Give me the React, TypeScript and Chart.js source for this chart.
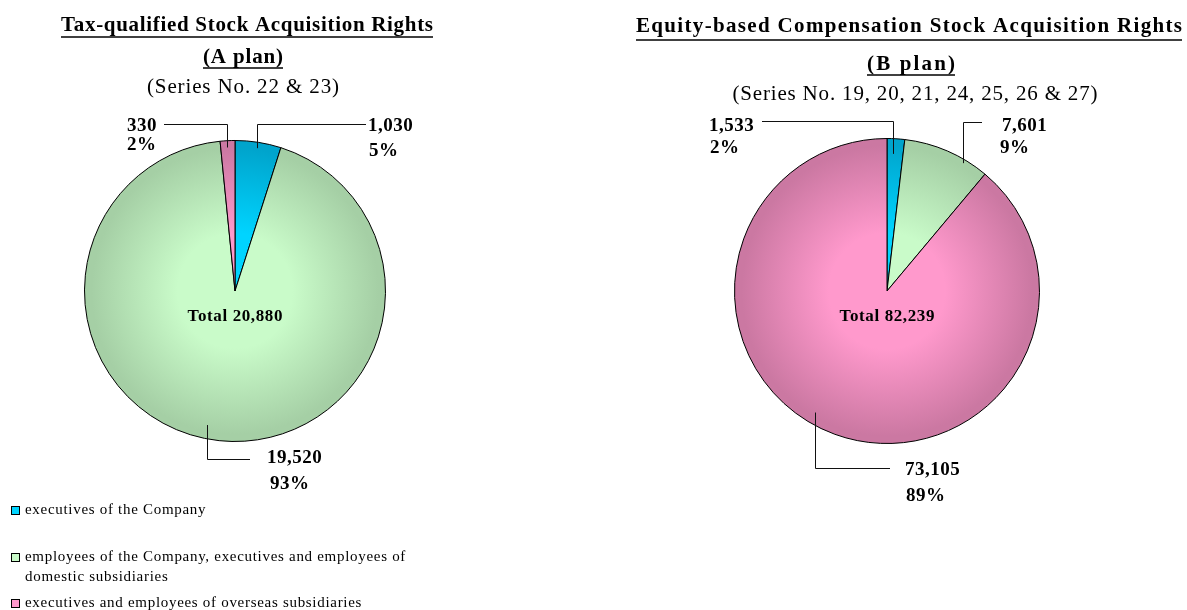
import React, { useEffect, useRef } from "react";
import { Chart, registerables } from "chart.js";

Chart.register(...registerables);

// ---------------- data ----------------
const categories = [
  "executives of the Company",
  "employees of the Company, executives and employees of domestic subsidiaries",
  "executives and employees of overseas subsidiaries",
];
const legendLines = [
  ["executives of the Company"],
  ["employees of the Company, executives and employees of", "domestic subsidiaries"],
  ["executives and employees of overseas subsidiaries"],
];
const planAValues = [1030, 19520, 330];
const planBValues = [1533, 7601, 73105];
const planATitle = "Tax-qualified Stock Acquisition Rights";
const planASub = "(A plan)";
const planASeries = "(Series No. 22 & 23)";
const planBTitle = "Equity-based Compensation Stock Acquisition Rights";
const planBSub = "(B plan)";
const planBSeries = "(Series No. 19, 20, 21, 24, 25, 26 & 27)";

// colours: [centre, edge]
const sliceColors = [
  ["#00d4ff", "#00a4cc"],
  ["#c9fbc9", "#a5cfa5"],
  ["#ff99cc", "#cb78a2"],
];

const SERIF = '"Liberation Serif", "Times New Roman", serif';

// ---------------- layout ----------------
type LabelLayout = {
  angle: number; // anchor angle (deg, clockwise from top)
  rf: number; // anchor radius fraction
  lineY: number;
  endX: number;
  tx: number;
  ty: number;
  px: number;
  py: number;
};

const layoutA = {
  padding: { left: 84, right: 801, top: 140, bottom: 168 },
  title: { cx: 247, cy: 26, w: 372, uy: 37 },
  sub: { cx: 243, cy: 58, w: 80, uy: 68 },
  series: { cx: 243, cy: 87, w: 192 },
  labels: [
    { angle: 8.7, rf: 0.96, lineY: 124.5, endX: 366, tx: 368, ty: 126, px: 369, py: 151 },
    { angle: 191.8, rf: 0.91, lineY: 459.5, endX: 250, tx: 267, ty: 458, px: 270, py: 484 },
    { angle: 356.8, rf: 0.955, lineY: 124.5, endX: 164, tx: 127, ty: 126, px: 127, py: 145 },
  ] as LabelLayout[],
};

const layoutB = {
  padding: { left: 734, right: 147, top: 138, bottom: 166 },
  title: { cx: 909, cy: 27, w: 546, uy: 40 },
  sub: { cx: 911, cy: 65, w: 88, uy: 75 },
  series: { cx: 915, cy: 94, w: 365 },
  labels: [
    { angle: 2.5, rf: 0.9, lineY: 121.5, endX: 762, tx: 709, ty: 126, px: 710, py: 148 },
    { angle: 30.7, rf: 0.975, lineY: 122.5, endX: 982, tx: 1002, ty: 126, px: 1000, py: 148 },
    { angle: 210.5, rf: 0.925, lineY: 468.5, endX: 890, tx: 905, ty: 470, px: 906, py: 496 },
  ] as LabelLayout[],
};

// ---------------- helpers ----------------
function drawText(
  ctx: CanvasRenderingContext2D,
  text: string,
  x: number,
  y: number,
  font: string,
  align: "left" | "center" | "right",
  opts: { width?: number; spacing?: number } = {}
) {
  ctx.save();
  ctx.font = font;
  ctx.textBaseline = "middle";
  ctx.textAlign = "left";
  ctx.fillStyle = "#000";
  (ctx as any).letterSpacing = "0px";
  const w0 = ctx.measureText(text).width;
  let spacing = opts.spacing ?? 0;
  if (opts.width) spacing = (opts.width - w0) / Math.max(text.length - 1, 1);
  (ctx as any).letterSpacing = spacing + "px";
  const w = w0 + spacing * (text.length - 1);
  const left = align === "center" ? x - w / 2 : align === "right" ? x - w : x;
  ctx.fillText(text, left, y);
  ctx.restore();
  return { left, width: w };
}

function underline(ctx: CanvasRenderingContext2D, left: number, width: number, y: number) {
  ctx.save();
  ctx.strokeStyle = "#000";
  ctx.lineWidth = 1.6;
  ctx.beginPath();
  ctx.moveTo(left, y);
  ctx.lineTo(left + width, y);
  ctx.stroke();
  ctx.restore();
}

function fmt(n: number) {
  return n.toLocaleString("en-US");
}

function sliceGradient(c: any) {
  const chart = c.chart;
  const area = chart.chartArea;
  const [inner, outer] = sliceColors[c.dataIndex % sliceColors.length];
  if (!area) return inner;
  const cx = (area.left + area.right) / 2;
  const cy = (area.top + area.bottom) / 2;
  const r = Math.min(area.right - area.left, area.bottom - area.top) / 2;
  const g = chart.ctx.createRadialGradient(cx, cy, 0, cx, cy, r);
  g.addColorStop(0, inner);
  g.addColorStop(0.38, inner);
  g.addColorStop(0.95, outer);
  g.addColorStop(1, outer);
  return g;
}

function makeAnnotPlugin(
  values: number[],
  layout: typeof layoutA,
  title: string,
  sub: string,
  series: string,
  withLegend: boolean
) {
  return {
    id: "annot",
    afterDraw(chart: any) {
      const ctx: CanvasRenderingContext2D = chart.ctx;
      const meta = chart.getDatasetMeta(0);
      const arc0 = meta.data[0];
      const cx = arc0.x;
      const cy = arc0.y;
      const R = arc0.outerRadius;
      const total = values.reduce((a, b) => a + b, 0);

      // titles
      const BOLD_T = `bold 21px ${SERIF}`;
      const t1 = drawText(ctx, title, layout.title.cx, layout.title.cy, BOLD_T, "center", { width: layout.title.w });
      underline(ctx, t1.left, t1.width, layout.title.uy);
      const t2 = drawText(ctx, sub, layout.sub.cx, layout.sub.cy, BOLD_T, "center", { width: layout.sub.w });
      underline(ctx, t2.left, t2.width, layout.sub.uy);
      drawText(ctx, series, layout.series.cx, layout.series.cy, `21px ${SERIF}`, "center", { width: layout.series.w });

      // total
      drawText(ctx, "Total " + fmt(total), cx, cy + 26, `bold 17px ${SERIF}`, "center", { spacing: 0.6 });

      // labels + leader lines
      const LBL = `bold 19px ${SERIF}`;
      ctx.save();
      ctx.strokeStyle = "#111";
      ctx.lineWidth = 1;
      values.forEach((v, i) => {
        const L = layout.labels[i];
        const th = ((L.angle - 90) * Math.PI) / 180;
        const ax = Math.round(cx + R * L.rf * Math.cos(th)) + 0.5;
        const ay = cy + R * L.rf * Math.sin(th);
        ctx.beginPath();
        ctx.moveTo(ax, ay);
        ctx.lineTo(ax, L.lineY);
        ctx.lineTo(L.endX, L.lineY);
        ctx.stroke();
        const pct = Math.round((v / total) * 100) + "%";
        drawText(ctx, fmt(v), L.tx, L.ty, LBL, "left", { spacing: 0.5 });
        drawText(ctx, pct, L.px, L.py, LBL, "left", { spacing: 0.5 });
      });
      ctx.restore();

      // legend
      if (withLegend) {
        const LEG = `15px ${SERIF}`;
        const legendY = [[510], [557, 577], [603]];
        legendLines.forEach((lines, i) => {
          const [inner] = sliceColors[i];
          const y0 = legendY[i][0];
          ctx.save();
          ctx.fillStyle = inner;
          ctx.fillRect(11, Math.round(y0 - 4), 8, 8);
          ctx.strokeStyle = "#000";
          ctx.lineWidth = 1;
          ctx.strokeRect(11.5, Math.round(y0 - 4) + 0.5, 8, 8);
          ctx.restore();
          lines.forEach((ln, j) => {
            drawText(ctx, ln, 25, legendY[i][j], LEG, "left", { spacing: 0.7 });
          });
        });
      }
    },
  };
}

function PieCanvas(props: {
  values: number[];
  layout: typeof layoutA;
  title: string;
  sub: string;
  series: string;
  withLegend: boolean;
}) {
  const ref = useRef<HTMLCanvasElement | null>(null);
  useEffect(() => {
    if (!ref.current) return;
    const chart = new Chart(ref.current, {
      type: "pie",
      data: {
        labels: categories,
        datasets: [
          {
            data: props.values,
            backgroundColor: sliceGradient,
            borderColor: "#000",
            borderWidth: 1,
          },
        ],
      },
      options: {
        responsive: false,
        animation: false,
        devicePixelRatio: 1,
        events: [],
        layout: { padding: props.layout.padding },
        plugins: {
          legend: { display: false },
          tooltip: { enabled: false },
          title: { display: false },
        },
      },
      plugins: [
        makeAnnotPlugin(props.values, props.layout, props.title, props.sub, props.series, props.withLegend),
      ],
    } as any);
    return () => chart.destroy();
  }, []);
  return (
    <canvas
      ref={ref}
      width={1187}
      height={610}
      style={{ position: "absolute", left: 0, top: 0, width: 1187, height: 610 }}
    />
  );
}

export default function App() {
  return (
    <div
      style={{
        position: "absolute",
        left: 0,
        top: 0,
        width: 1187,
        height: 610,
        background: "#fff",
        overflow: "hidden",
      }}
    >
      <PieCanvas values={planAValues} layout={layoutA} title={planATitle} sub={planASub} series={planASeries} withLegend={true} />
      <PieCanvas values={planBValues} layout={layoutB} title={planBTitle} sub={planBSub} series={planBSeries} withLegend={false} />
    </div>
  );
}
